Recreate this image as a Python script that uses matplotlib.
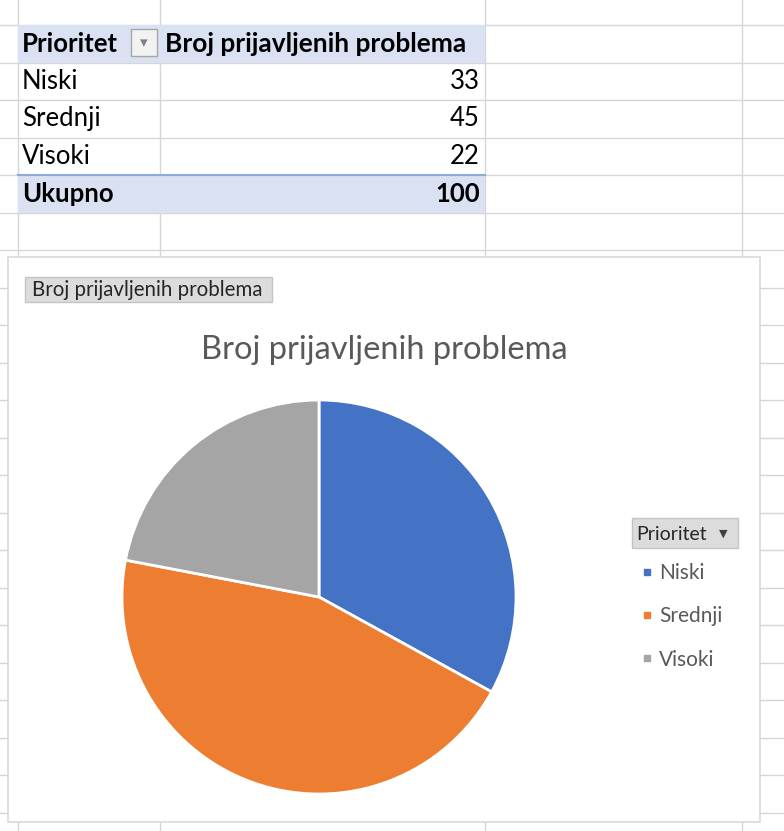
import matplotlib.pyplot as plt
from matplotlib.patches import Rectangle
from matplotlib.lines import Line2D

# pivot table data
field_name = "Prioritet"
value_name = "Broj prijavljenih problema"
categories = ["Niski", "Srednji", "Visoki"]
counts = [33, 45, 22]
total_label = "Ukupno"
colors = ["#4472C4", "#ED7D31", "#A5A5A5"]

W, H = 784, 831
FONT = ["Lato", "DejaVu Sans"]
plt.rcParams["font.family"] = FONT

fig = plt.figure(figsize=(W / 100, H / 100), dpi=100)
bg = fig.add_axes([0, 0, 1, 1])
bg.set_xlim(0, W)
bg.set_ylim(H, 0)
bg.axis("off")

# spreadsheet grid
grid_c = "#D6D6D6"
row_h = 37.5
y = 25.0
while y < H:
    bg.plot([0, W], [y, y], color=grid_c, lw=1, zorder=1)
    y += row_h
for x in [18, 160, 485, 742]:
    bg.plot([x, x], [0, H], color=grid_c, lw=1, zorder=1)

# pivot table
tab_l, tab_r = 18, 485
head_fill = "#D9E1F2"
bg.add_patch(Rectangle((tab_l, 25), tab_r - tab_l, row_h, fc=head_fill, ec="none", zorder=2))
tot_y = 25 + row_h * (len(categories) + 1)
bg.add_patch(Rectangle((tab_l, tot_y), tab_r - tab_l, row_h, fc=head_fill, ec="none", zorder=2))
bg.plot([tab_l, tab_r], [tot_y, tot_y], color="#8EA9DB", lw=1.5, zorder=3)

fs_tab = 18.5
bg.text(22, 25 + row_h / 2, field_name, fontsize=fs_tab, fontweight="bold",
        va="center", ha="left", color="black", zorder=4)
# filter button
bg.add_patch(Rectangle((131, 29), 26, 27, fc="#F2F2F2", ec="#A6A6A6", lw=1, zorder=4))
bg.text(144, 42.5, "\u25BE", fontsize=11, ha="center", va="center", color="#808080",
        family="DejaVu Sans", zorder=5)
bg.text(165, 25 + row_h / 2, value_name, fontsize=18.9, fontweight="bold",
        va="center", ha="left", color="black", zorder=4)

for i, (cat, val) in enumerate(zip(categories, counts)):
    yc = 25 + row_h * (i + 1.5)
    bg.text(22, yc, cat, fontsize=fs_tab, va="center", ha="left", zorder=4)
    bg.text(480, yc, str(val), fontsize=fs_tab, va="center", ha="right", zorder=4)
bg.text(22, tot_y + row_h / 2, total_label, fontsize=fs_tab, fontweight="bold",
        va="center", ha="left", zorder=4)
bg.text(480, tot_y + row_h / 2, str(sum(counts)), fontsize=fs_tab, fontweight="bold",
        va="center", ha="right", zorder=4)

# chart area
bg.add_patch(Rectangle((8, 257), 752, 565, fc="white", ec="#D9D9D9", lw=1.2, zorder=6))

# value field button
bg.add_patch(Rectangle((25, 277), 247, 25, fc="#DCDCDC", ec="#C4C4C4", lw=1, zorder=7))
bg.text(32, 290, value_name, fontsize=14.8, va="center", ha="left", color="#262626", zorder=8)

# chart title
bg.text(384, 350, value_name, fontsize=23.5, va="center", ha="center", color="#595959", zorder=8)

# legend field button
bg.add_patch(Rectangle((632, 518), 106, 30, fc="#DCDCDC", ec="#C4C4C4", lw=1, zorder=7))
bg.text(636, 534, field_name, fontsize=14, va="center", ha="left", color="#262626", zorder=8)
bg.text(723, 534, "\u25BC", fontsize=8, va="center", ha="center", color="#404040",
        family="DejaVu Sans", zorder=8)

# pie
cx, cy, r = 319, 597, 197
pax = fig.add_axes([(cx - r) / W, (H - cy - r) / H, 2 * r / W, 2 * r / H])
wedges, _ = pax.pie(counts, colors=colors, startangle=90, counterclock=False,
                    radius=1, wedgeprops=dict(edgecolor="white", linewidth=2))
for w in wedges:
    w.set_clip_on(False)
pax.set_xlim(-1, 1)
pax.set_ylim(-1, 1)
pax.axis("off")

handles = [Line2D([], [], marker="s", linestyle="none", markersize=5,
                  markerfacecolor=c, markeredgecolor=c) for c in colors]
leg = fig.legend(handles, categories, loc="upper left",
                 bbox_to_anchor=(641 / W, 1 - 563 / H), frameon=False,
                 fontsize=15, labelspacing=1.12, handlelength=0.6,
                 handletextpad=0.26, borderpad=0, borderaxespad=0)
for t in leg.get_texts():
    t.set_color("#595959")

fig.savefig("out.png", dpi=100)
